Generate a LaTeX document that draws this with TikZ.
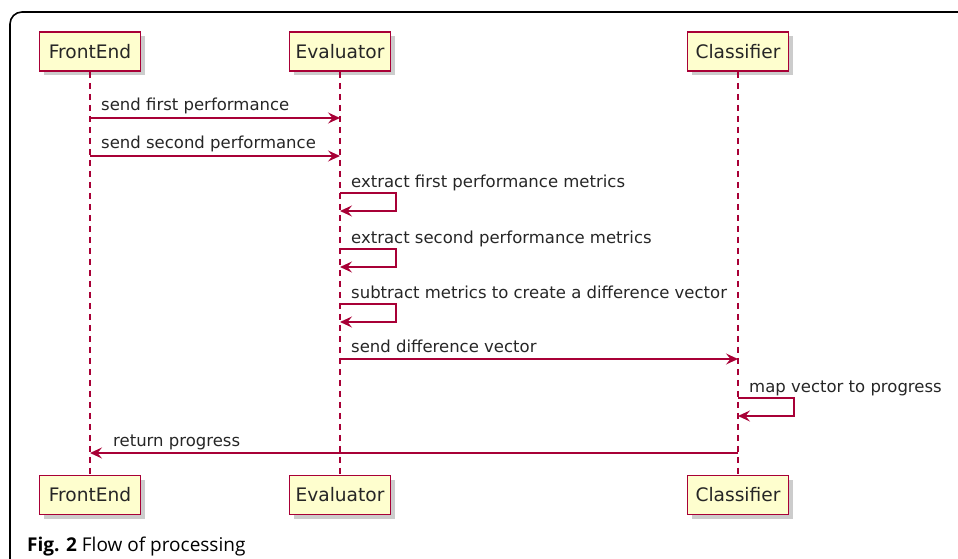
\documentclass[tikz,border=0pt]{standalone}
\usepackage{fontspec}
\setmainfont{DejaVu Sans}
\newfontfamily\capfont{Open Sans}
\usetikzlibrary{arrows.meta,shadows}
\definecolor{umlred}{HTML}{A80036}
\definecolor{umlfill}{HTML}{FEFECE}
\begin{document}
\begin{tikzpicture}[x=1pt, y=-1pt,
    actor/.style={draw=umlred, line width=1.8pt, fill=umlfill,
        minimum width=101pt, minimum height=39pt, inner sep=0pt,
        font=\fontsize{18.6}{21}\selectfont, text=black!85,
        drop shadow={shadow xshift=4pt, shadow yshift=-4pt, fill=black!40}},
    lifeline/.style={umlred, line width=1.2pt, dash pattern=on 6pt off 5pt},
    msg/.style={umlred, line width=1.3pt,
        -{Stealth[length=12pt, width=11pt, inset=4.5pt]}},
    lbl/.style={anchor=base west, inner sep=0pt, text=black!85,
        font=\fontsize{16.5}{19}\selectfont}]
    \useasboundingbox (0, 0) rectangle (958, 559);
    % outer frame
    \draw[line width=1.6pt, rounded corners=12pt] (10, 565) -- (10, 12) -- (965, 12);

    % participants, top and bottom
    \foreach \n/\x/\t in {fe/90/FrontEnd, ev/340/Evaluator, cl/738/Classifier} {
        \node[actor] (\n) at (\x, 51.5) {\t};
        \node[actor] (\n2) at (\x, 495) {\t};
    }
    \foreach \n in {fe, ev, cl}
        \draw[lifeline] (\n.south) -- (\n2.north);

    % messages between lifelines
    \foreach \a/\b/\y/\t in {fe/ev/118/send first performance,
                             fe/ev/156/send second performance,
                             ev/cl/359/send difference vector} {
        \coordinate (m\y) at (0, \y);
        \draw[msg] (\a |- m\y) -- (\b |- m\y);
        \node[lbl] (l\y) at ([shift={(11, -7)}] \a |- m\y) {\t};
    }
    \coordinate (r453) at (0, 453);
    \draw[msg] (cl |- r453) -- (fe |- r453);
    \node[lbl] (l453) at ([shift={(23, -7)}] fe |- r453) {return progress};

    % self messages
    \foreach \a/\y/\t in {ev/193/extract first performance metrics,
                          ev/249/extract second performance metrics,
                          ev/304/subtract metrics to create a difference vector,
                          cl/398/map vector to progress} {
        \coordinate (s\y) at (0, \y);
        \draw[msg] (\a |- s\y) -- ++(56, 0) -- ++(0, 18) -- ([yshift=-18pt] \a |- s\y);
        \node[lbl] (l\y) at ([shift={(11, -6)}] \a |- s\y) {\t};
    }

    % caption
    \node[anchor=base west, inner sep=0pt, font=\capfont\fontsize{19}{22}\selectfont]
        (cap) at (27, 551) {\textbf{Fig. 2} Flow of processing};
\end{tikzpicture}
\end{document}
